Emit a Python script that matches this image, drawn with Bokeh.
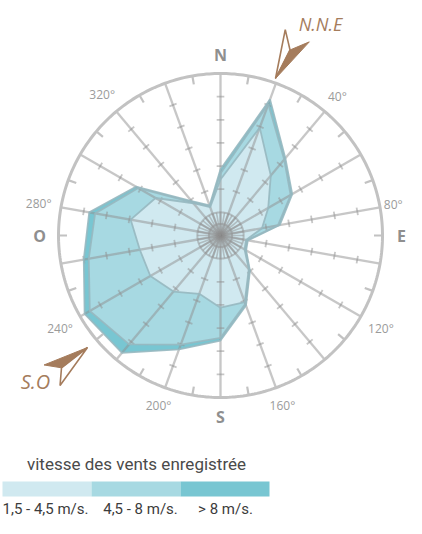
import numpy as np
from bokeh.plotting import figure
from bokeh.models import Range1d
from bokeh.embed import file_html
from bokeh.resources import INLINE
from bokeh.core.properties import value

# ---------------- data (percent of observations, per speed class) -------------
directions = [0, 20, 40, 60, 80, 100, 120, 140, 160, 180, 200, 220, 240, 260, 280, 300, 320, 340]
speed_low = [12.1, 24.8, 16.9, 11.9, 9.1, 5.6, 6.0, 9.5, 15.3, 15.6, 13.4, 15.8, 17.5, 17.7, 19.7, 16.2, 9.1, 6.5]
speed_mid = [1.3, 5.4, 4.5, 5.6, 3.5, 0.2, 0.2, 0.2, 0.4, 6.5, 11.7, 14.9, 15.1, 11.2, 7.8, 4.3, 0.2, 0.2]
speed_high = [0.9, 1.1, 0.4, 0.4, 0.4, 0.2, 0.2, 0.2, 0.4, 0.6, 1.1, 2.4, 1.3, 1.1, 1.3, 0.6, 0.4, 0.2]
ring_max = 35
ring_ticks = [10, 15, 20, 25, 30]
hub_rings = [2.5, 5]
degree_labels = ["40°", "80°", "120°", "160°", "200°", "240°", "280°", "320°"]
degree_angles = [40, 80, 120, 160, 200, 240, 280, 320]
cardinal_labels = ["N", "E", "S", "O"]
cardinal_angles = [0, 90, 180, 270]
legend_title = "vitesse des vents enregistrée"
legend_labels = ["1,5 - 4,5 m/s.", "4,5 - 8 m/s.", "> 8 m/s."]
class_colors = ["#d0e9f0", "#a7d9e2", "#78c6d2"]
dominant_labels = ["N.N.E", "S.O"]

# ---------------- layout ----------------
W, H = 406, 518
PX = 162.0 / ring_max          # pixels per unit
CX, CY = 220, 235              # centre of rose in picture pixels

def pg(x, y):
    """picture pixel -> data coords"""
    return (x - CX) / PX, (CY - y) / PX

x0, y1 = pg(0, 0)
x1, y0 = pg(W, H)

p = figure(width=W, height=H, output_backend="svg", toolbar_location=None,
           x_range=Range1d(x0, x1), y_range=Range1d(y0, y1),
           min_border=0, outline_line_color=None)
p.axis.visible = False
p.grid.visible = False
p.background_fill_color = "white"

def polar(r, deg):
    t = np.radians(deg)
    return np.asarray(r) * np.sin(t), np.asarray(r) * np.cos(t)

# cumulative polygons
low = np.array(speed_low)
mid = low + np.array(speed_mid)
high = mid + np.array(speed_high)
ang = np.array(directions, dtype=float)

for vals, col in [(high, class_colors[2]), (mid, class_colors[1]), (low, class_colors[0])]:
    xs, ys = polar(vals, ang)
    p.patch(list(xs), list(ys), fill_color=col, line_color=None)

# grid (drawn over the fill, semi-transparent)
gcol = "#8f8f8f"
galpha = 0.5
sx, sy = polar(ring_max, ang)
p.segment(x0=[0] * len(ang), y0=[0] * len(ang), x1=list(sx), y1=list(sy),
          line_color=gcol, line_alpha=galpha, line_width=2.3)
hub_ang = np.arange(0, 360, 10.0)
hx, hy = polar(hub_rings[-1], hub_ang)
p.segment(x0=[0] * len(hub_ang), y0=[0] * len(hub_ang), x1=list(hx), y1=list(hy),
          line_color=gcol, line_alpha=galpha, line_width=1.6)
circ = np.linspace(0, 360, 361)
for rr in hub_rings:
    cx_, cy_ = polar(rr, circ)
    p.line(list(cx_), list(cy_), line_color=gcol, line_alpha=galpha, line_width=2.0)

# cross ticks on spokes
half = 3.8 / PX
tx0, ty0, tx1, ty1 = [], [], [], []
for a in directions:
    t = np.radians(a)
    for r in ring_ticks:
        bx, by = r * np.sin(t), r * np.cos(t)
        px_, py_ = np.cos(t) * half, -np.sin(t) * half
        tx0.append(bx - px_); ty0.append(by - py_)
        tx1.append(bx + px_); ty1.append(by + py_)
p.segment(x0=tx0, y0=ty0, x1=tx1, y1=ty1, line_color=gcol, line_alpha=galpha, line_width=1.8)

# polygon outlines
for vals in [high, mid, low]:
    xs, ys = polar(np.append(vals, vals[0]), np.append(ang, ang[0]))
    p.line(list(xs), list(ys), line_color="#97b8c0", line_width=1.8, line_alpha=0.9)

# outer circle + inward ticks
ox, oy = polar(ring_max, circ)
p.line(list(ox), list(oy), line_color="#c2c2c2", line_width=3)
mid_ang = ang + 10
ix0, iy0 = polar(ring_max, mid_ang)
ix1, iy1 = polar(ring_max - 8.5 / PX, mid_ang)
p.segment(x0=list(ix0), y0=list(iy0), x1=list(ix1), y1=list(iy1),
          line_color="#c2c2c2", line_width=2.2)

# degree labels (kept inside the canvas)
dx_, dy_ = [], []
for lab, a in zip(degree_labels, degree_angles):
    t = np.radians(a)
    w = 6.8 * len(lab)
    rpx = 170 + abs(np.sin(t)) * w / 2 + abs(np.cos(t)) * 7
    xp = min(CX + rpx * np.sin(t), W - w / 2 - 3)
    yp = CY - rpx * np.cos(t)
    lx_, ly_ = pg(xp, yp)
    dx_.append(lx_); dy_.append(ly_)
p.text(x=dx_, y=dy_, text=degree_labels, text_font=value("Open Sans"), text_font_size="12px",
       text_color="#9b9b9b", text_align="center", text_baseline="middle")

# cardinal labels
cx_, cy_ = polar(np.full(4, 181 / PX), np.array(cardinal_angles, dtype=float))
p.text(x=list(cx_), y=list(cy_), text=cardinal_labels, text_font=value("Open Sans"),
       text_font_size="16px", text_font_style="bold", text_color="#8f8f8f",
       text_align="center", text_baseline="middle")

# dominant-wind arrows
brown = "#a57c5c"
def arrow(tip, tail_deg, length, halfw, notch):
    tx, ty = tip
    phi = np.radians(tail_deg)
    u = np.array([np.sin(phi), -np.cos(phi)])
    v = np.array([np.cos(phi), np.sin(phi)])
    T = np.array([tx, ty], dtype=float)
    M = T + u * length
    A = M + v * halfw
    B = M - v * halfw
    N = T + u * notch
    filled = [pg(*T), pg(*A), pg(*N)]
    outline = [pg(*T), pg(*B), pg(*N), pg(*T)]
    p.patch([q[0] for q in filled], [q[1] for q in filled], fill_color=brown, line_color=brown, line_width=1)
    p.line([q[0] for q in outline], [q[1] for q in outline], line_color=brown, line_width=1.6)

arrow((275, 78), 27, 48, 13.5, 32)
arrow((87, 347), 232, 45, 13, 33)

lx, ly = pg(320, 23)
lx2, ly2 = pg(35, 381)
p.text(x=[lx], y=[ly], text=[dominant_labels[0]], text_font=value("Open Sans"), text_font_size="18px",
       text_font_style="italic", text_color=brown, text_align="center", text_baseline="middle")
p.text(x=[lx2], y=[ly2], text=[dominant_labels[1]], text_font=value("Open Sans"), text_font_size="20px",
       text_font_style="italic", text_color=brown, text_align="center", text_baseline="middle")

# legend
tx_, ty_ = pg(136, 463)
p.text(x=[tx_], y=[ty_], text=[legend_title], text_font=value("Roboto"), text_font_size="17px",
       text_color="#4a4a4a", text_align="center", text_baseline="middle")
edges = [2, 91, 180, 269]
lefts = [pg(e, 0)[0] for e in edges[:-1]]
rights = [pg(e, 0)[0] for e in edges[1:]]
_, btop = pg(0, 481)
_, bbot = pg(0, 496)
p.quad(left=lefts, right=rights, top=[btop] * 3, bottom=[bbot] * 3,
       fill_color=class_colors, line_color=None)
centers = [pg(c, 0)[0] for c in [45, 140, 225]]
_, lab_y = pg(0, 508)
p.text(x=centers, y=[lab_y] * 3, text=legend_labels, text_font=value("Roboto"), text_font_size="15px",
       text_color="#3c3c3c", text_align="center", text_baseline="middle")

open("out.html", "w").write(file_html(p, INLINE))
